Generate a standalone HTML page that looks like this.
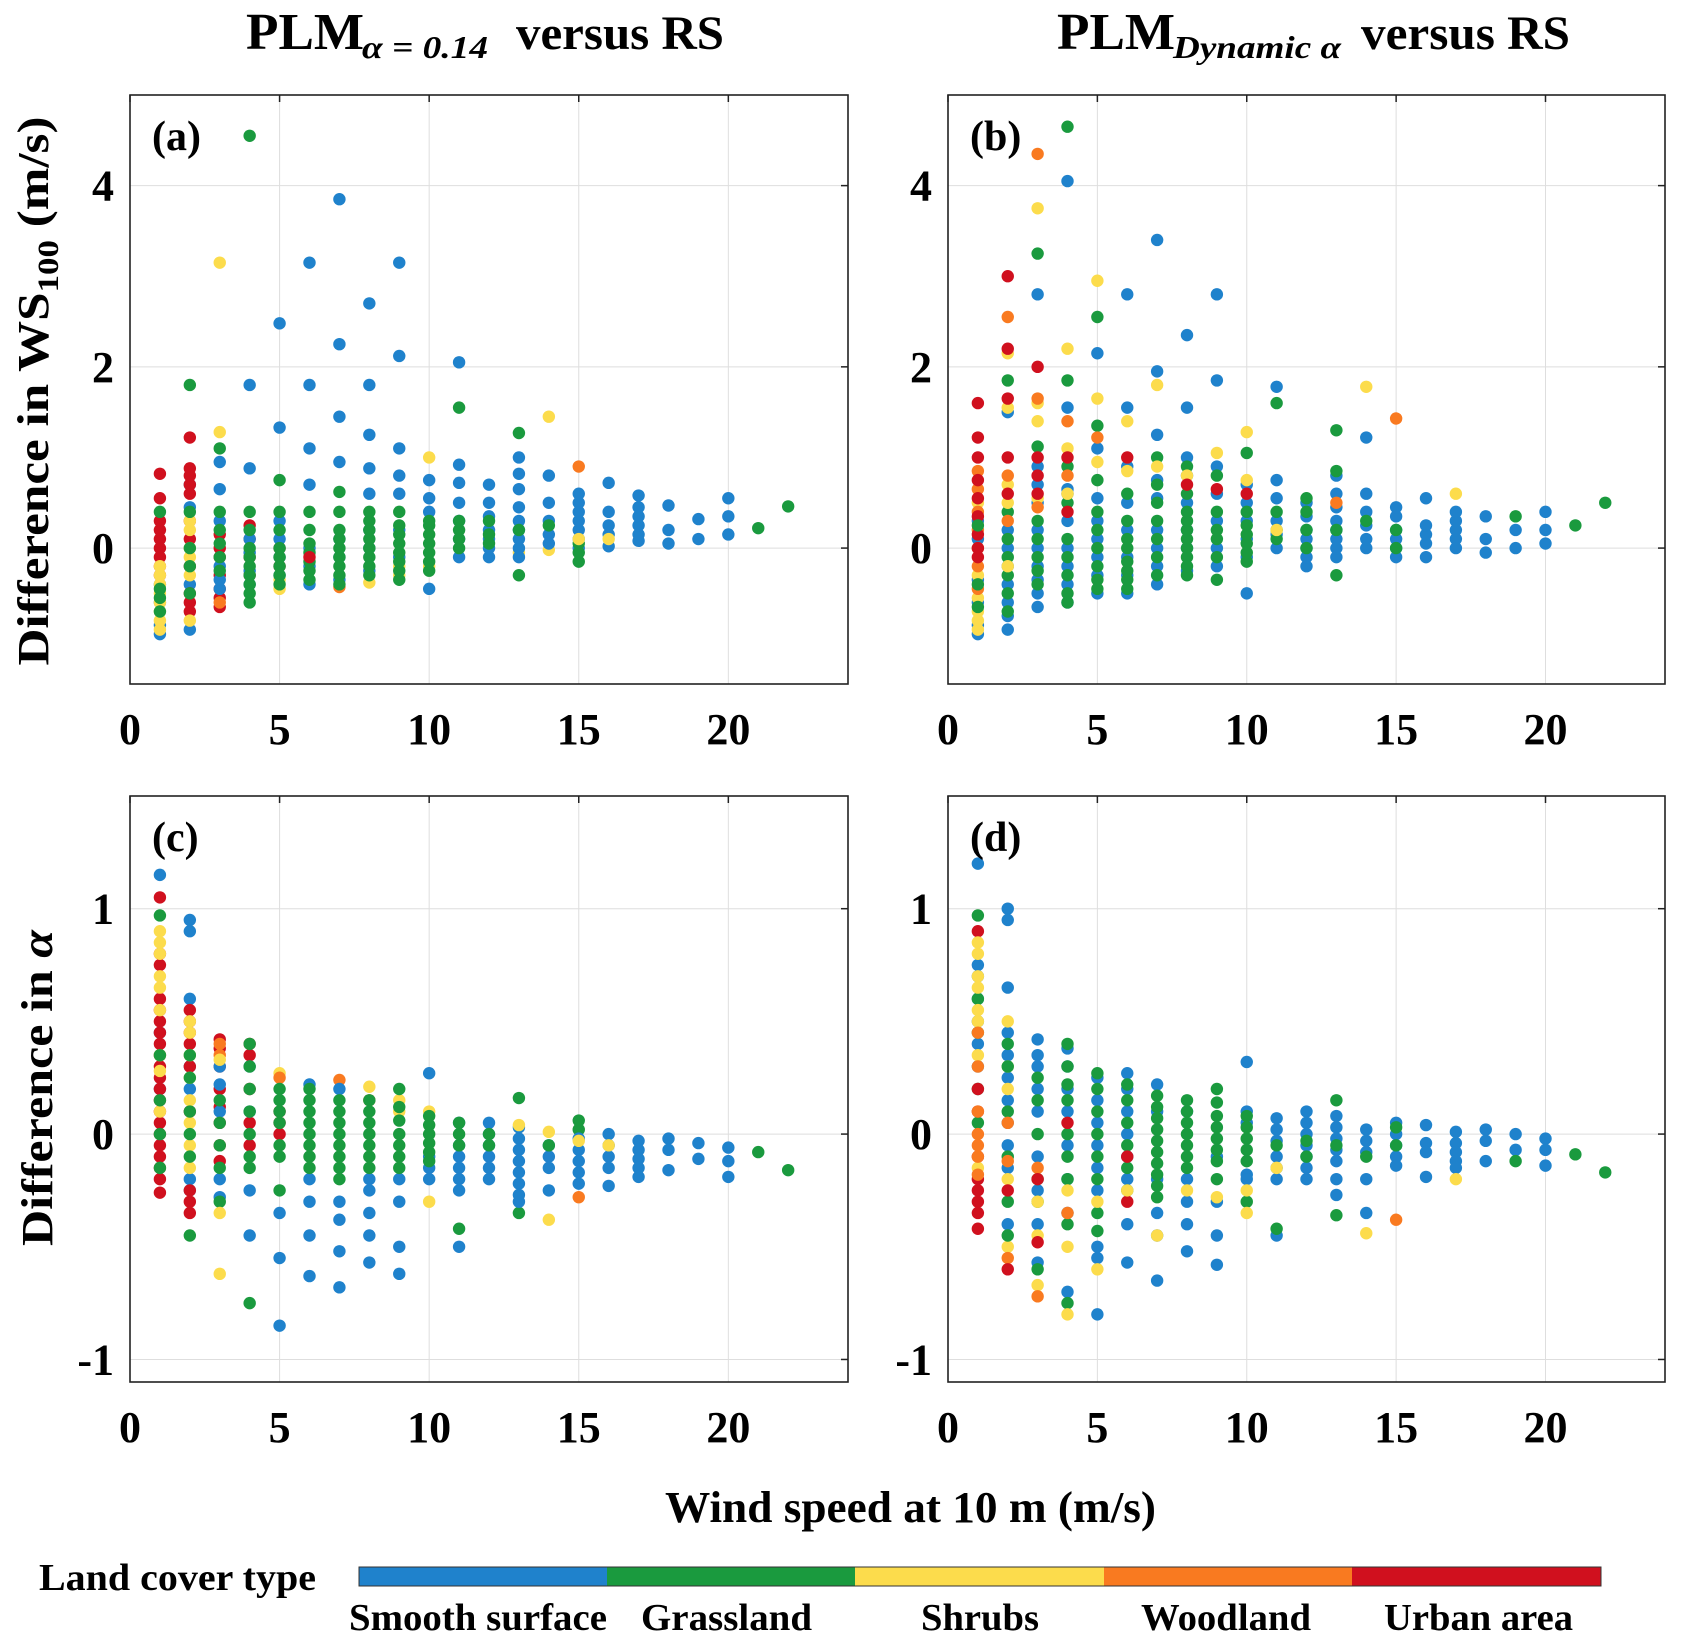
<!DOCTYPE html>
<html><head><meta charset="utf-8"><style>
html,body{margin:0;padding:0;background:#fff;}
svg{display:block;font-family:"Liberation Serif",serif;font-weight:bold;}
</style></head><body>
<svg id="fig" width="1681" height="1647" viewBox="0 0 1681 1647" xmlns="http://www.w3.org/2000/svg">
<g>
<text x="246" y="49" font-size="52" textLength="118" lengthAdjust="spacingAndGlyphs">PLM</text>
<text x="362" y="58" font-size="32" font-style="italic" textLength="126" lengthAdjust="spacingAndGlyphs">α = 0.14</text>
<text x="516" y="49" font-size="48" textLength="208" lengthAdjust="spacingAndGlyphs">versus RS</text>
</g>
<g>
<text x="1057" y="49" font-size="52" textLength="118" lengthAdjust="spacingAndGlyphs">PLM</text>
<text x="1173" y="58" font-size="32" font-style="italic" textLength="168" lengthAdjust="spacingAndGlyphs">Dynamic α</text>
<text x="1361" y="49" font-size="48" textLength="209" lengthAdjust="spacingAndGlyphs">versus RS</text>
</g>
<text transform="translate(48,391) rotate(-90)" text-anchor="middle" font-size="44" textLength="549" lengthAdjust="spacingAndGlyphs">Difference in WS<tspan font-size="30" dy="10">100</tspan><tspan dy="-10"> (m/s)</tspan></text>
<text transform="translate(52,1088) rotate(-90)" text-anchor="middle" font-size="44" textLength="316" lengthAdjust="spacingAndGlyphs">Difference in <tspan font-style="italic">α</tspan></text>
<text x="665" y="1522" font-size="44" textLength="491" lengthAdjust="spacingAndGlyphs">Wind speed at 10 m (m/s)</text>
<g>
<text x="39" y="1590" font-size="38" textLength="277" lengthAdjust="spacingAndGlyphs">Land cover type</text>
<rect x="359" y="1567" width="248" height="19" fill="#1f82cc"/>
<rect x="607" y="1567" width="248" height="19" fill="#1a9a3e"/>
<rect x="855" y="1567" width="249" height="19" fill="#fcdc4c"/>
<rect x="1104" y="1567" width="248" height="19" fill="#f97a20"/>
<rect x="1352" y="1567" width="249" height="19" fill="#d0101e"/>
<rect x="359" y="1567" width="1242" height="19" fill="none" stroke="#333" stroke-width="1"/>
<text x="349" y="1630" font-size="38" textLength="258" lengthAdjust="spacingAndGlyphs">Smooth surface</text>
<text x="641" y="1630" font-size="38" textLength="171" lengthAdjust="spacingAndGlyphs">Grassland</text>
<text x="921" y="1630" font-size="38" textLength="118" lengthAdjust="spacingAndGlyphs">Shrubs</text>
<text x="1141" y="1630" font-size="38" textLength="170" lengthAdjust="spacingAndGlyphs">Woodland</text>
<text x="1384" y="1630" font-size="38" textLength="189" lengthAdjust="spacingAndGlyphs">Urban area</text>
</g>
</svg>
<script>
const colors = {b:'#1f82cc', g:'#1a9a3e', y:'#fcdc4c', o:'#f97a20', r:'#d0101e'};
const xTicks = [0,5,10,15,20];
const yTicksWS = [0,2,4];
const yTicksAlpha = [-1,0,1];
const panelA = [
[1,'b',[-0.95,-0.85,-0.6,-0.4]],[1,'r',[-0.3,-0.2,-0.1,0,0.1,0.2,0.3,0.55,0.82]],[1,'y',[-0.9,-0.8,-0.7,-0.6,-0.5,-0.4,-0.3,-0.2]],[1,'g',[-0.7,-0.55,-0.45,0.4]],
[2,'b',[-0.9,-0.4,0.45,0.7]],[2,'r',[-0.7,-0.6,-0.5,-0.2,0.1,0.3,0.6,0.7,0.8,0.88,1.22]],[2,'y',[-0.8,-0.3,-0.1,0,0.2,0.3]],[2,'g',[-0.5,-0.2,0,0.4,1.8]],
[3,'r',[-0.65,-0.55,-0.45,-0.3,-0.1,0,0.15]],[3,'o',[-0.6]],[3,'b',[-0.45,-0.35,-0.2,0.3,0.65,0.95]],[3,'g',[-0.25,-0.1,0.05,0.2,0.4,1.1]],[3,'y',[1.28,3.15]],
[4,'r',[-0.3,-0.1,0.1,0.25]],[4,'b',[-0.4,-0.25,-0.05,0.1,0.88,1.8]],[4,'g',[-0.6,-0.5,-0.4,-0.3,-0.2,-0.1,0,0.2,0.4,4.55]],
[5,'y',[-0.45,-0.35]],[5,'r',[-0.2,0]],[5,'b',[-0.3,-0.1,0.1,0.3,1.33,2.48]],[5,'g',[-0.4,-0.3,-0.2,-0.1,0,0.2,0.4,0.75]],
[6,'b',[-0.4,-0.2,0,0.7,1.1,1.8,3.15]],[6,'g',[-0.35,-0.25,-0.15,-0.05,0.05,0.2,0.4]],[6,'r',[-0.1]],
[7,'o',[-0.43]],[7,'b',[-0.35,-0.1,0.1,0.95,1.45,2.25,3.85]],[7,'g',[-0.4,-0.3,-0.2,-0.1,0,0.1,0.2,0.4,0.62]],
[8,'y',[-0.38]],[8,'b',[-0.25,0,0.2,0.6,0.88,1.25,1.8,2.7]],[8,'g',[-0.3,-0.2,-0.1,0,0.1,0.2,0.3,0.4]],
[9,'y',[-0.3,-0.2]],[9,'b',[-0.1,0.2,0.6,0.8,1.1,2.12,3.15]],[9,'g',[-0.35,-0.25,-0.15,-0.05,0.05,0.15,0.25,0.4]],
[10,'y',[-0.2,1.0]],[10,'b',[-0.45,0.4,0.55,0.75]],[10,'g',[-0.25,-0.15,-0.05,0.05,0.15,0.25,0.3]],
[11,'b',[-0.1,0.1,0.3,0.5,0.72,0.92,2.05]],[11,'g',[0,0.1,0.2,0.3,1.55]],
[12,'b',[-0.1,0,0.1,0.2,0.35,0.5,0.7]],[12,'g',[0.05,0.15,0.3]],
[13,'y',[-0.05]],[13,'b',[-0.1,0,0.1,0.2,0.3,0.45,0.65,0.82,1.0]],[13,'g',[-0.3,0.2,1.27]],
[14,'y',[-0.02,1.45]],[14,'b',[0.05,0.15,0.3,0.5,0.8]],[14,'g',[0.25]],
[15,'b',[0,0.1,0.2,0.3,0.4,0.5,0.6]],[15,'g',[-0.15,-0.05,0.05]],[15,'y',[0.1]],[15,'o',[0.9]],
[16,'b',[0.02,0.15,0.25,0.4,0.72]],[16,'y',[0.1]],
[17,'b',[0.08,0.15,0.25,0.35,0.45,0.58]],[18,'b',[0.05,0.2,0.47]],[19,'b',[0.1,0.32]],[20,'b',[0.15,0.35,0.55]],[21,'g',[0.22]],[22,'g',[0.46]]
];
const panelB = [
[1,'b',[-0.95,-0.85,-0.6,-0.35,0.1,0.3]],[1,'y',[-0.9,-0.8,-0.7,-0.55,-0.3,0.5]],[1,'o',[-0.45,-0.2,0,0.2,0.4,0.65,0.85]],[1,'r',[-0.1,0,0.15,0.35,0.55,0.75,1.0,1.22,1.6]],[1,'g',[-0.65,-0.4,0.25]],
[2,'b',[-0.9,-0.75,-0.6,-0.4,-0.2,0,0.2,1.5]],[2,'g',[-0.7,-0.5,-0.3,-0.1,0.1,0.4,1.85]],[2,'y',[-0.2,0.5,0.7,1.55,2.15]],[2,'o',[0.3,0.8,2.55]],[2,'r',[0.6,1.0,1.65,2.2,3.0]],
[3,'b',[-0.65,-0.5,-0.35,-0.2,0,0.2,0.5,0.7,0.9,2.8]],[3,'g',[-0.4,-0.25,-0.1,0.1,0.3,1.12,3.25]],[3,'y',[0.55,1.4,1.6,3.75]],[3,'o',[0.45,1.65,4.35]],[3,'r',[0.6,0.8,1.0,2.0]],
[4,'b',[-0.6,-0.4,-0.2,0,0.3,0.6,0.65,1.55,4.05]],[4,'g',[-0.6,-0.5,-0.3,-0.1,0.1,0.5,0.9,1.85,4.65]],[4,'y',[0.6,1.1,2.2]],[4,'o',[0.8,1.4]],[4,'r',[0.4,1.0]],
[5,'b',[-0.5,-0.3,-0.1,0.1,0.3,0.55,1.1,2.15]],[5,'g',[-0.45,-0.35,-0.2,0,0.2,0.4,0.75,1.35,2.55]],[5,'y',[0.95,1.65,2.95]],[5,'o',[1.22]],
[6,'b',[-0.5,-0.3,-0.1,0.2,0.5,0.9,1.55,2.8]],[6,'g',[-0.45,-0.35,-0.25,-0.15,0,0.1,0.3,0.6]],[6,'y',[1.4,0.85]],[6,'r',[1.0]],
[7,'b',[-0.4,-0.2,0,0.2,0.55,0.75,1.25,1.95,3.4]],[7,'g',[-0.3,-0.1,0.1,0.3,0.5,0.7,1.0]],[7,'y',[0.9,1.8]],
[8,'b',[-0.25,0,0.2,0.5,0.8,1.0,1.55,2.35]],[8,'g',[-0.3,-0.2,-0.1,0,0.1,0.2,0.3,0.4,0.6,0.9]],[8,'y',[0.8]],[8,'r',[0.7]],
[9,'b',[-0.2,0,0.3,0.6,0.9,1.85,2.8]],[9,'g',[-0.35,-0.1,0.1,0.2,0.4,0.8]],[9,'y',[1.05]],[9,'r',[0.65]],
[10,'b',[-0.5,-0.1,0.1,0.3,0.5,0.7]],[10,'g',[-0.15,-0.05,0.05,0.15,0.25,0.4,1.05]],[10,'y',[1.28,0.75]],[10,'r',[0.6]],
[11,'b',[0,0.15,0.3,0.55,0.75,1.78]],[11,'g',[0.1,0.2,0.4,1.6]],[11,'y',[0.2]],
[12,'b',[-0.2,-0.1,0,0.1,0.2,0.35,0.5]],[12,'g',[0,0.2,0.4,0.55]],
[13,'b',[-0.1,0,0.1,0.2,0.3,0.45,0.6,0.8]],[13,'g',[-0.3,0.2,0.85,1.3]],[13,'o',[0.5]],
[14,'b',[0,0.1,0.25,0.4,0.6,1.22]],[14,'g',[0.3]],[14,'y',[1.78]],
[15,'b',[-0.1,0,0.1,0.2,0.35,0.45]],[15,'g',[0,0.2]],[15,'o',[1.43]],
[16,'b',[-0.1,0.05,0.15,0.25,0.55]],[17,'b',[0,0.1,0.2,0.3,0.4]],[17,'y',[0.6]],
[18,'b',[-0.05,0.1,0.35]],[19,'b',[0,0.2]],[19,'g',[0.35]],[20,'b',[0.05,0.2,0.4]],[21,'g',[0.25]],[22,'g',[0.5]]
];
const panelC = [
[1,'b',[1.15,0.45,0.2]],[1,'r',[-0.26,-0.2,-0.15,-0.1,-0.05,0,0.05,0.1,0.15,0.2,0.25,0.3,0.35,0.4,0.45,0.5,0.55,0.6,0.75,0.8,1.05]],[1,'y',[0.9,0.85,0.8,0.7,0.65,0.55,0.35,0.28,0.1]],[1,'g',[0.97,0.35,0.15,0,-0.15]],
[2,'b',[0.95,0.9,0.6,0.3,0.2,-0.2,-0.25]],[2,'r',[0.55,0.5,0.45,0.4,-0.3,-0.35,-0.25,0.1,0.3]],[2,'y',[0.5,0.45,0.35,0.25,0.15,0.05,-0.05,-0.15]],[2,'g',[0.35,0.25,0.1,0,-0.1,-0.45]],
[3,'r',[0.42,0.38,0.3,0.2,0.12,0.05,-0.05,-0.12]],[3,'o',[0.4,0.35]],[3,'b',[0.3,0.22,0.1,-0.2,-0.28]],[3,'g',[0.15,0.05,-0.05,-0.15,-0.3]],[3,'y',[0.33,-0.35,-0.62]],
[4,'r',[0.4,0.35,0.2,0.05,-0.05]],[4,'b',[0.3,0.1,-0.25,-0.45]],[4,'g',[0.4,0.3,0.2,0.1,0,-0.1,-0.15,-0.75]],
[5,'y',[0.27]],[5,'o',[0.25]],[5,'r',[0.1,0,0.05]],[5,'g',[0.2,0.15,0.1,0.05,-0.05,-0.1,-0.25]],[5,'b',[-0.35,-0.55,-0.85]],
[6,'b',[0.22,-0.2,-0.3,-0.45,-0.63]],[6,'g',[0.2,0.15,0.1,0.05,0,-0.05,-0.1,-0.15]],
[7,'o',[0.24]],[7,'b',[0.2,-0.3,-0.38,-0.52,-0.68]],[7,'g',[0.15,0.1,0.05,0,-0.05,-0.1,-0.15,-0.2]],
[8,'y',[0.21]],[8,'o',[0.15]],[8,'b',[-0.2,-0.25,-0.35,-0.45,-0.57]],[8,'g',[0.15,0.1,0.05,0,-0.05,-0.1,-0.15]],
[9,'y',[0.15,0.1]],[9,'b',[-0.2,-0.3,-0.5,-0.62]],[9,'g',[0.2,0.12,0.06,0,-0.05,-0.1,-0.15]],
[10,'b',[0.27,-0.15,-0.2,-0.1]],[10,'y',[0.1,-0.3]],[10,'g',[0.08,0.04,0,-0.04,-0.08,-0.12]],
[11,'b',[0.05,-0.05,-0.1,-0.15,-0.2,-0.25,-0.5]],[11,'g',[0.05,0,-0.05,-0.42]],
[12,'b',[0.05,0,-0.05,-0.1,-0.15,-0.2]],[12,'g',[0,-0.05]],
[13,'g',[0.16,-0.35]],[13,'b',[0.03,-0.02,-0.07,-0.12,-0.17,-0.22,-0.27,-0.3]],[13,'y',[0.04]],
[14,'y',[0.01,-0.38]],[14,'b',[-0.05,-0.1,-0.15,-0.25]],[14,'g',[-0.05]],
[15,'g',[0.06,0.02]],[15,'o',[-0.28]],[15,'b',[-0.02,-0.07,-0.12,-0.17,-0.22]],[15,'y',[-0.03]],
[16,'b',[0,-0.05,-0.1,-0.15,-0.23]],[16,'y',[-0.05]],
[17,'b',[-0.03,-0.07,-0.11,-0.15,-0.19]],[18,'b',[-0.02,-0.07,-0.16]],[19,'b',[-0.04,-0.11]],[20,'b',[-0.06,-0.12,-0.19]],[21,'g',[-0.08]],[22,'g',[-0.16]]
];
const panelD = [
[1,'b',[1.2,0.75,0.7,0.6,0.5,0.4,0.3]],[1,'g',[0.97,0.6,0.45,0.2,0.05]],[1,'r',[0.9,0.2,0.1,-0.1,-0.2,-0.25,-0.3,-0.35,-0.42]],[1,'y',[0.85,0.8,0.7,0.65,0.55,0.5,0.35,-0.15]],[1,'o',[0.45,0.3,0.1,0,-0.05,-0.1,-0.18]],
[2,'b',[1.0,0.95,0.65,0.45,0.35,0.25,0.15,0.05,-0.05,-0.15,-0.4]],[2,'y',[0.5,0.3,0.2,-0.2,-0.5]],[2,'g',[0.4,0.3,0.1,-0.1,-0.3,-0.45]],[2,'o',[0.05,-0.12,-0.55]],[2,'r',[-0.25,-0.6]],
[3,'b',[0.42,0.35,0.3,0.2,0.1,-0.1,-0.25,-0.4,-0.57]],[3,'g',[0.25,0.15,0,-0.2,-0.3,-0.6]],[3,'y',[-0.3,-0.45,-0.67]],[3,'o',[-0.15,-0.72]],[3,'r',[-0.2,-0.48]],
[4,'b',[0.38,0.3,0.2,0.1,-0.05,-0.2,-0.35,-0.7]],[4,'g',[0.4,0.3,0.22,0.15,0,-0.1,-0.2,-0.4,-0.75]],[4,'y',[-0.25,-0.5,-0.8]],[4,'o',[-0.35]],[4,'r',[0.05]],
[5,'b',[0.25,0.15,0.05,-0.05,-0.15,-0.25,-0.5,-0.55,-0.8]],[5,'g',[0.27,0.2,0.1,0,-0.1,-0.2,-0.35,-0.43]],[5,'y',[-0.3,-0.6]],
[6,'b',[0.27,0.2,0.1,0,-0.1,-0.2,-0.4,-0.57]],[6,'g',[0.22,0.15,0.05,-0.05,-0.15,-0.25]],[6,'r',[-0.3,-0.1]],[6,'y',[-0.25]],
[7,'b',[0.22,0.1,-0.2,-0.35,-0.45,-0.65]],[7,'g',[0.17,0.12,0.07,0.02,-0.03,-0.08,-0.13,-0.18,-0.23,-0.28]],[7,'y',[-0.45]],
[8,'b',[0.1,-0.2,-0.3,-0.4,-0.52]],[8,'g',[0.15,0.1,0.05,0,-0.05,-0.1,-0.15]],[8,'y',[-0.25]],
[9,'b',[-0.1,-0.3,-0.45,-0.58]],[9,'g',[0.2,0.14,0.08,0.03,-0.02,-0.07,-0.12,-0.2]],[9,'y',[-0.28]],
[10,'b',[0.32,0.1,0.05,-0.18,-0.2]],[10,'g',[0.08,0.03,-0.02,-0.07,-0.12,-0.3]],[10,'y',[-0.25,-0.35]],
[11,'b',[0.07,0.02,-0.03,-0.1,-0.15,-0.2,-0.45]],[11,'g',[-0.05,-0.42]],[11,'y',[-0.15]],
[12,'b',[0.1,0.05,0,-0.05,-0.1,-0.15,-0.2]],[12,'g',[-0.03,-0.1]],
[13,'b',[0.08,0.03,-0.02,-0.07,-0.12,-0.2,-0.27]],[13,'g',[0.15,-0.05,-0.36]],
[14,'b',[0.02,-0.03,-0.08,-0.2,-0.35]],[14,'g',[-0.1]],[14,'y',[-0.44]],
[15,'b',[0.05,0,-0.05,-0.1,-0.14]],[15,'g',[0.03,-0.05]],[15,'o',[-0.38]],
[16,'b',[0.04,-0.04,-0.08,-0.19]],[17,'b',[0.01,-0.04,-0.08,-0.12,-0.15]],[17,'y',[-0.2]],
[18,'b',[0.02,-0.03,-0.12]],[19,'b',[0,-0.07]],[19,'g',[-0.12]],[20,'b',[-0.02,-0.07,-0.14]],[21,'g',[-0.09]],[22,'g',[-0.17]]
];
const NS='http://www.w3.org/2000/svg';
const svg=document.getElementById('fig');
function mk(tag,attrs,parent){const e=document.createElementNS(NS,tag);for(const k in attrs)e.setAttribute(k,attrs[k]);(parent||svg).appendChild(e);return e;}
function panel(name,label,L,R,T,B,ymin,ymax,yTicks,data){
  const g=mk('g',{});
  
  
  const sx=v=>L+(v-0)/(24-0)*(R-L);
  const sy=v=>B-(v-ymin)/(ymax-ymin)*(B-T);
  xTicks.forEach(t=>{
    mk('line',{x1:sx(t),x2:sx(t),y1:T,y2:B,stroke:'#dedede','stroke-width':1},g);
    mk('line',{x1:sx(t),x2:sx(t),y1:T,y2:T+7,stroke:'#222','stroke-width':1.5},g);
    const tx=mk('text',{x:sx(t),y:B+60,'text-anchor':'middle','font-size':44},g);
    
    
    tx.textContent=t;
  });
  yTicks.forEach(t=>{
    mk('line',{x1:L,x2:R,y1:sy(t),y2:sy(t),stroke:'#dedede','stroke-width':1},g);
    mk('line',{x1:R-7,x2:R,y1:sy(t),y2:sy(t),stroke:'#222','stroke-width':1.5},g);
    const tx=mk('text',{x:L-16,y:sy(t)+15,'text-anchor':'end','font-size':44},g);
    
    
    tx.textContent=t;
  });
  data.forEach(col=>{
    col[2].forEach(v=>{
      const c=mk('circle',{cx:sx(col[0]),cy:sy(v),r:6.2,fill:colors[col[1]]},g);
      
      
    });
  });
  mk('rect',{x:L,y:T,width:R-L,height:B-T,fill:'none',stroke:'#222','stroke-width':1.6},g);
  const lb=mk('text',{x:L+22,y:T+55,'font-size':42},g);
  
  
  lb.textContent=label;
}
panel('panel-a','(a)',130,848,95,684,-1.5,5,yTicksWS,panelA);
panel('panel-b','(b)',948,1665,95,684,-1.5,5,yTicksWS,panelB);
panel('panel-c','(c)',130,848,796,1382,-1.1,1.5,yTicksAlpha,panelC);
panel('panel-d','(d)',948,1665,796,1382,-1.1,1.5,yTicksAlpha,panelD);
</script>
</body></html>
